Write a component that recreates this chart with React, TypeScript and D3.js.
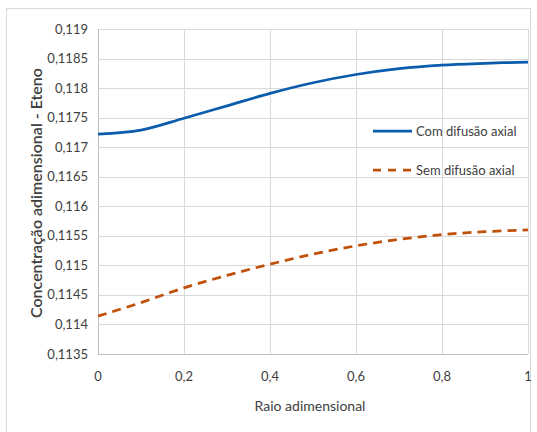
import React from "react";
import * as d3 from "d3";

const xs = [0, 0.1, 0.2, 0.3, 0.4, 0.5, 0.6, 0.7, 0.8, 0.9, 1.0];
const comDifusao = [0.11722, 0.11729, 0.11749, 0.11770, 0.11791, 0.11809, 0.11823, 0.11833, 0.11839, 0.11842, 0.11844];
const semDifusao = [0.11414, 0.11437, 0.11462, 0.11483, 0.11502, 0.11519, 0.11533, 0.11544, 0.11552, 0.11557, 0.11560];
const yTicks = [0.1135, 0.114, 0.1145, 0.115, 0.1155, 0.116, 0.1165, 0.117, 0.1175, 0.118, 0.1185, 0.119];
const xTicks = [0, 0.2, 0.4, 0.6, 0.8, 1];
const seriesNames = ["Com difusão axial", "Sem difusão axial"];

const W = 537, H = 432;
const L = 98, R = 528, T = 29, B = 354;
const font = "Lato, 'Open Sans', sans-serif";

const fmt = (v: number) => {
  const s = String(+v.toFixed(6));
  return s.replace(".", ",");
};

export default function App() {
  const x = d3.scaleLinear().domain([0, 1]).range([L, R]);
  const y = d3.scaleLinear().domain([0.1135, 0.119]).range([B, T]);
  const line = d3
    .line<number>()
    .x((_, i) => x(xs[i]))
    .y((d) => y(d))
    .curve(d3.curveCatmullRom.alpha(0.5));
  const blue = "#0b5cad";
  const red = "#c0500a";
  return (
    <svg width={W} height={H} style={{ position: "absolute", left: 0, top: 0, display: "block" }}>
      <rect x={0} y={0} width={W} height={H} fill="#fff" />
      <rect x={6.5} y={8.5} width={524} height={440} fill="#fff" stroke="#d9d9d9" strokeWidth={1} />
      {yTicks.map((t) => (
        <line key={"gy" + t} x1={L} x2={R} y1={Math.round(y(t)) + 0.5} y2={Math.round(y(t)) + 0.5} stroke="#d9d9d9" strokeWidth={1} />
      ))}
      {xTicks.map((t) => (
        <line key={"gx" + t} x1={Math.round(x(t)) + 0.5} x2={Math.round(x(t)) + 0.5} y1={T} y2={B} stroke="#d9d9d9" strokeWidth={1} />
      ))}
      <line x1={L + 0.5} x2={L + 0.5} y1={T} y2={B} stroke="#bfbfbf" strokeWidth={1} />
      <line x1={L} x2={R} y1={B + 0.5} y2={B + 0.5} stroke="#bfbfbf" strokeWidth={1} />
      {yTicks.map((t) => (
        <text key={"ty" + t} x={88} y={y(t)} dy="0.35em" textAnchor="end" fontFamily={font} fontSize={13} fill="#404040">
          {fmt(t)}
        </text>
      ))}
      {xTicks.map((t) => (
        <text key={"tx" + t} x={x(t)} y={376} dy="0.35em" textAnchor="middle" fontFamily={font} fontSize={13} fill="#404040">
          {fmt(t)}
        </text>
      ))}
      <text x={(L + R) / 2 - 3} y={406} dy="0.35em" textAnchor="middle" fontFamily={font} fontSize={14} fill="#404040">
        Raio adimensional
      </text>
      <text
        transform={`translate(36,${193}) rotate(-90)`}
        textAnchor="middle"
        dy="0.35em"
        fontFamily={font}
        fontSize={16}
        fontWeight={600}
        fill="#404040"
      >
        Concentração adimensional - Eteno
      </text>
      <path d={line(semDifusao) || ""} fill="none" stroke={red} strokeWidth={2.75} strokeDasharray="9 6" />
      <path d={line(comDifusao) || ""} fill="none" stroke={blue} strokeWidth={2.75} />
      <line x1={373} x2={412} y1={131} y2={131} stroke={blue} strokeWidth={2.75} />
      <text x={416} y={131} dy="0.35em" fontFamily={font} fontSize={13} fill="#404040">
        {seriesNames[0]}
      </text>
      <line x1={373} x2={412} y1={170} y2={170} stroke={red} strokeWidth={2.75} strokeDasharray="8 7" />
      <text x={416} y={170} dy="0.35em" fontFamily={font} fontSize={13} fill="#404040">
        {seriesNames[1]}
      </text>
    </svg>
  );
}
